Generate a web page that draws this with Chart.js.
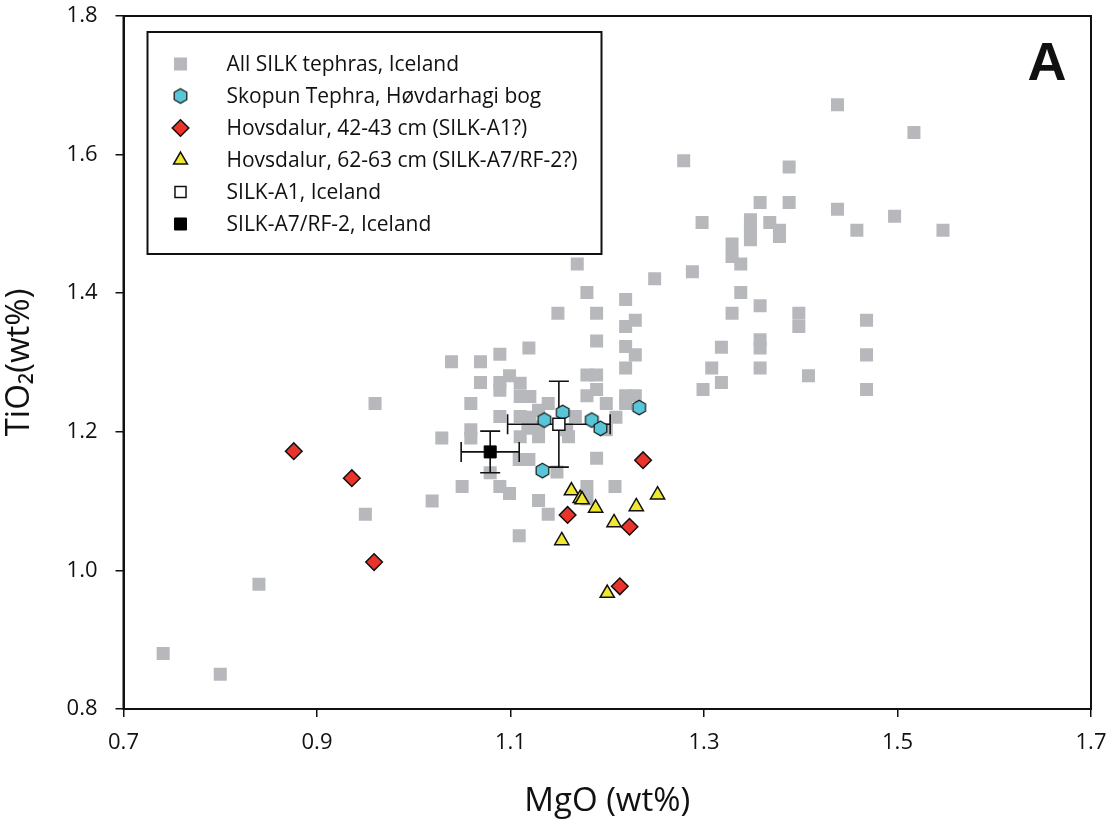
<!DOCTYPE html>
<html><head><meta charset="utf-8">
<script src="https://cdn.jsdelivr.net/npm/chart.js@4.4.0/dist/chart.umd.min.js"></script>
<style>html,body{margin:0;padding:0;background:#fff;}#wrap{width:1107px;height:829px;position:relative;}</style>
</head><body><div id="wrap"><canvas id="c" width="1107" height="829"></canvas></div>
<script>
const xTicks = [0.7, 0.9, 1.1, 1.3, 1.5, 1.7];
const yTicks = [0.8, 1.0, 1.2, 1.4, 1.6, 1.8];

const silkAllMgO = [0.741,0.800,0.840,0.950,0.960,1.019,1.029,1.050,1.039,1.069,1.069,1.059,1.059,1.059,1.089,1.119,1.149,1.089,1.099,1.110,1.089,1.110,1.120,1.089,1.110,1.120,1.139,1.129,1.110,1.118,1.129,1.129,1.160,1.167,1.109,1.119,1.079,1.089,1.099,1.129,1.139,1.109,1.148,1.158,1.189,1.219,1.219,1.229,1.219,1.179,1.189,1.189,1.179,1.199,1.219,1.229,1.219,1.209,1.199,1.189,1.179,1.179,1.208,1.169,1.249,1.179,1.219,1.189,1.229,1.438,1.517,1.279,1.388,1.358,1.388,1.438,1.497,1.547,1.298,1.348,1.348,1.348,1.368,1.378,1.378,1.458,1.329,1.329,1.338,1.288,1.338,1.358,1.329,1.398,1.398,1.468,1.318,1.358,1.358,1.308,1.318,1.299,1.358,1.408,1.468,1.468];
const silkAllTiO2 = [0.880,0.850,0.980,1.081,1.241,1.100,1.191,1.121,1.301,1.301,1.271,1.241,1.203,1.191,1.312,1.321,1.371,1.271,1.281,1.270,1.260,1.251,1.251,1.222,1.222,1.221,1.241,1.231,1.193,1.205,1.193,1.207,1.193,1.222,1.160,1.160,1.141,1.121,1.111,1.101,1.081,1.050,1.142,1.203,1.331,1.352,1.323,1.311,1.292,1.282,1.282,1.261,1.252,1.241,1.252,1.252,1.241,1.221,1.203,1.162,1.121,1.103,1.121,1.442,1.421,1.401,1.391,1.371,1.361,1.672,1.632,1.591,1.582,1.531,1.531,1.521,1.511,1.491,1.502,1.506,1.491,1.477,1.502,1.491,1.482,1.491,1.471,1.453,1.442,1.431,1.401,1.382,1.371,1.371,1.352,1.361,1.322,1.333,1.321,1.292,1.271,1.261,1.292,1.281,1.311,1.261];

const skopunMgO = [1.135, 1.154, 1.184, 1.193, 1.233, 1.133];
const skopunTiO2 = [1.217, 1.228, 1.217, 1.205, 1.235, 1.144];

const hov42MgO = [0.876, 0.936, 0.959, 1.159, 1.223, 1.213, 1.237];
const hov42TiO2 = [1.172, 1.133, 1.012, 1.080, 1.063, 0.977, 1.159];

const hov62MgO = [1.163, 1.172, 1.174, 1.188, 1.230, 1.252, 1.207, 1.153, 1.200];
const hov62TiO2 = [1.115, 1.104, 1.102, 1.090, 1.092, 1.109, 1.069, 1.043, 0.967];

const silkA1MgO = [1.150];
const silkA1TiO2 = [1.211];
const silkA1MgOErr = [0.053];
const silkA1TiO2Err = [0.062];

const silkA7MgO = [1.079];
const silkA7TiO2 = [1.171];
const silkA7MgOErr = [0.030];
const silkA7TiO2Err = [0.030];

const legendLabels = ['All SILK tephras, Iceland','Skopun Tephra, Høvdarhagi bog','Hovsdalur, 42-43 cm (SILK-A1?)','Hovsdalur, 62-63 cm (SILK-A7/RF-2?)','SILK-A1, Iceland','SILK-A7/RF-2, Iceland'];

const FONT = "'Open Sans', 'Noto Sans', 'DejaVu Sans', sans-serif";
Chart.defaults.font.family = FONT;

function pts(xs, ys){ return xs.map((x,i)=>({x:x, y:ys[i]})); }

function makeHex(r, fill){
  const s = Math.ceil(r*2+4);
  const c = document.createElement('canvas'); c.width = s; c.height = s;
  const g = c.getContext('2d');
  g.beginPath();
  for(let i=0;i<6;i++){
    const a = Math.PI/3*i - Math.PI/2;
    const px = s/2 + r*Math.cos(a), py = s/2 + r*Math.sin(a);
    if(i) g.lineTo(px,py); else g.moveTo(px,py);
  }
  g.closePath(); g.fillStyle = fill; g.fill();
  g.lineWidth = 1.2; g.strokeStyle = '#111'; g.stroke();
  return c;
}
const hexImg = makeHex(7.3, '#58c5d8');

const errorBars = {
  id: 'errorBars',
  afterDatasetDraw(chart, args){
    if (args.index !== 0) return;
    const ctx = chart.ctx, xs = chart.scales.x, ys = chart.scales.y;
    const sets = [[silkA1MgO, silkA1TiO2, silkA1MgOErr, silkA1TiO2Err],[silkA7MgO, silkA7TiO2, silkA7MgOErr, silkA7TiO2Err]];
    ctx.save(); ctx.strokeStyle = '#111'; ctx.lineWidth = 1.6;
    const cap = 10;
    sets.forEach(([mx, ty, ex, ey])=>{
      mx.forEach((v,i)=>{
        const cx = xs.getPixelForValue(v), cy = ys.getPixelForValue(ty[i]);
        const x1 = xs.getPixelForValue(v-ex[i]), x2 = xs.getPixelForValue(v+ex[i]);
        const y1 = ys.getPixelForValue(ty[i]+ey[i]), y2 = ys.getPixelForValue(ty[i]-ey[i]);
        ctx.beginPath();
        ctx.moveTo(x1, cy); ctx.lineTo(x2, cy);
        ctx.moveTo(x1, cy-cap); ctx.lineTo(x1, cy+cap);
        ctx.moveTo(x2, cy-cap); ctx.lineTo(x2, cy+cap);
        ctx.moveTo(cx, y1); ctx.lineTo(cx, y2);
        ctx.moveTo(cx-cap, y1); ctx.lineTo(cx+cap, y1);
        ctx.moveTo(cx-cap, y2); ctx.lineTo(cx+cap, y2);
        ctx.stroke();
      });
    });
    ctx.restore();
  }
};

const frameAndLegend = {
  id: 'frameAndLegend',
  afterDraw(chart){
    const ctx = chart.ctx, a = chart.chartArea;
    ctx.save();
    ctx.strokeStyle = '#111'; ctx.lineWidth = 2;
    ctx.strokeRect(a.left, a.top, a.right - a.left, a.bottom - a.top);
    const bx = a.left + 24, by = a.top + 16, bw = 454, bh = 222;
    ctx.fillStyle = '#fff'; ctx.fillRect(bx, by, bw, bh);
    ctx.lineWidth = 2; ctx.strokeRect(bx, by, bw, bh);
    const sizes = [9.2, 0, 8.3, 8, 7.8, 8.5];
    chart.data.datasets.forEach((ds, i)=>{
      const y = by + 32 + i*32;
      const x = bx + 33;
      ctx.fillStyle = ds.backgroundColor; ctx.strokeStyle = ds.borderColor || '#111';
      ctx.lineWidth = ds.borderWidth || 0;
      Chart.helpers.drawPoint(ctx, {pointStyle: ds.pointStyle, radius: ds.pointStyle === hexImg ? 7 : sizes[i], rotation: 0, borderWidth: ds.borderWidth || 0}, x, y);
      ctx.fillStyle = '#111'; ctx.font = '21px ' + FONT; ctx.textBaseline = 'middle'; ctx.textAlign = 'left';
      ctx.fillText(legendLabels[i], bx + 79, y + 1);
    });
    ctx.font = 'bold 54px "Liberation Sans", Arial, sans-serif';
    ctx.textAlign = 'center'; ctx.textBaseline = 'alphabetic'; ctx.fillStyle = '#111';
    ctx.fillText('A', a.right - 44, a.top + 64);
    ctx.restore();
  }
};

new Chart(document.getElementById('c'), {
  type: 'scatter',
  data: { datasets: [
    { label: legendLabels[0], data: pts(silkAllMgO, silkAllTiO2), pointStyle: 'rect', pointRadius: 9.2, backgroundColor: '#b7b8bc', borderWidth: 0, order: 10 },
    { label: legendLabels[1], data: pts(skopunMgO, skopunTiO2), pointStyle: hexImg, pointRadius: 7, backgroundColor: '#58c5d8', borderColor: '#111', borderWidth: 1, order: 4 },
    { label: legendLabels[2], data: pts(hov42MgO, hov42TiO2), pointStyle: 'rectRot', pointRadius: 8.3, backgroundColor: '#e8342b', borderColor: '#111', borderWidth: 1.5, order: 3 },
    { label: legendLabels[3], data: pts(hov62MgO, hov62TiO2), pointStyle: 'triangle', pointRadius: 8.2, backgroundColor: '#f0e82e', borderColor: '#111', borderWidth: 1.5, order: 2 },
    { label: legendLabels[4], data: pts(silkA1MgO, silkA1TiO2), pointStyle: 'rect', pointRadius: 8.5, backgroundColor: '#ffffff', borderColor: '#111', borderWidth: 1.5, order: 1 },
    { label: legendLabels[5], data: pts(silkA7MgO, silkA7TiO2), pointStyle: 'rect', pointRadius: 8.5, backgroundColor: '#000000', borderColor: '#000', borderWidth: 1, order: 1 }
  ]},
  options: {
    responsive: false, animation: false, devicePixelRatio: 1,
    layout: { autoPadding: false, padding: { top: 16, right: 16, left: 0, bottom: 0 } },
    plugins: { legend: { display: false }, tooltip: { enabled: false } },
    elements: { point: { hoverRadius: 0 } },
    scales: {
      x: {
        type: 'linear', min: 0.7, max: 1.7,
        afterBuildTicks: s => { s.ticks = xTicks.map(v => ({ value: v })); },
        afterFit: s => { s.height = 120; s.paddingLeft = 0; s.paddingRight = 0; s.paddingTop = 0; s.paddingBottom = 0; },
        grid: { drawOnChartArea: false, drawTicks: true, tickLength: 8, color: '#111', lineWidth: 1.5 },
        border: { display: true, color: '#111', width: 2 },
        ticks: { color: '#111', font: { size: 22 }, padding: 13, maxRotation: 0, autoSkip: false, callback: v => Number(v).toFixed(1) },
        title: { display: true, text: 'MgO (wt%)', color: '#111', font: { size: 33 }, padding: { top: 0, bottom: 8 } }
      },
      y: {
        type: 'linear', min: 0.8, max: 1.8,
        afterBuildTicks: s => { s.ticks = yTicks.map(v => ({ value: v })); },
        afterFit: s => { s.width = 123.5; s.paddingLeft = 0; s.paddingRight = 0; s.paddingTop = 0; s.paddingBottom = 0; },
        grid: { drawOnChartArea: false, drawTicks: true, tickLength: 8, color: '#111', lineWidth: 1.5 },
        border: { display: true, color: '#111', width: 2 },
        ticks: { color: '#111', font: { size: 22 }, padding: 18, autoSkip: false, callback: v => Number(v).toFixed(1) },
        title: { display: true, text: 'TiO₂(wt%)', color: '#111', font: { size: 33 }, padding: { top: 0, bottom: 2 } }
      }
    }
  },
  plugins: [errorBars, frameAndLegend]
});
</script></body></html>
